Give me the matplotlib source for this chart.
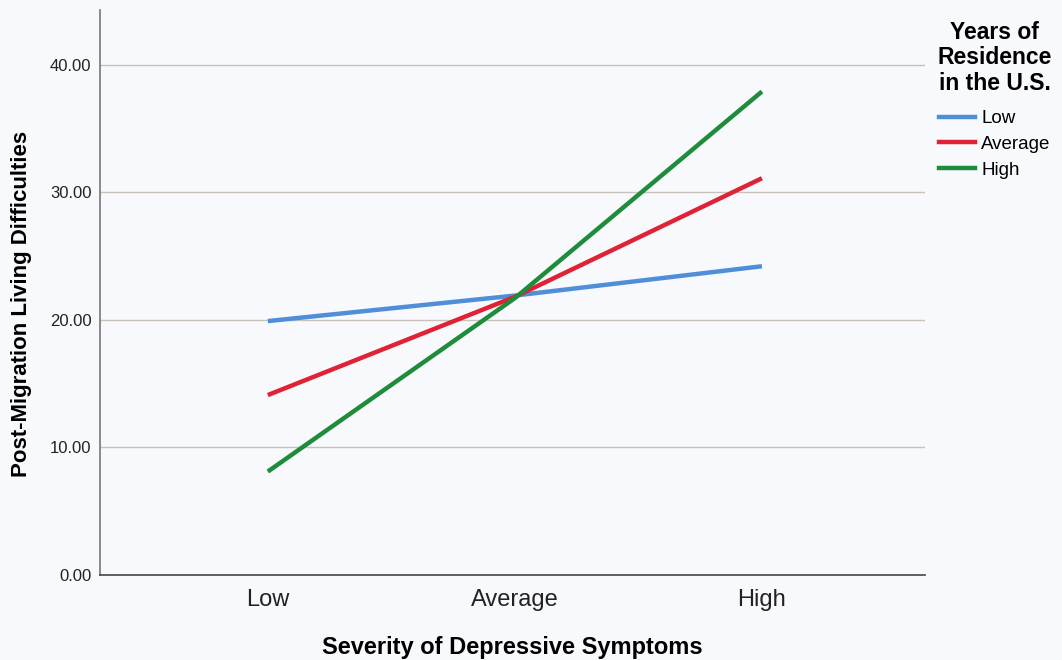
import matplotlib.pyplot as plt
from matplotlib.lines import Line2D

plt.rcParams['font.family'] = ['Liberation Sans', 'DejaVu Sans']

# Simple slopes data
severity = ['Low', 'Average', 'High']
residence_groups = ['Low', 'Average', 'High']
values = {
    'Low': [19.9, 21.9, 24.2],
    'Average': [14.1, 21.8, 31.1],
    'High': [8.1, 21.7, 37.9],
}
yticks = [0, 10, 20, 30, 40]
colors = {'Low': '#4f8fd8', 'Average': '#e02236', 'High': '#1f8c3b'}

bg = '#f8f9fc'
fig = plt.figure(figsize=(10.62, 6.6), dpi=100)
fig.patch.set_facecolor(bg)
ax = fig.add_axes([0.094, 0.129, 0.777, 0.856])
ax.set_facecolor(bg)

x = list(range(len(severity)))
for g in residence_groups:
    ax.plot(x, values[g], color=colors[g], linewidth=3.2, solid_capstyle='butt', zorder=3)

ax.set_xlim(-0.68, 2.66)
ax.set_ylim(0, 44.3)
ax.set_yticks(yticks)
ax.set_yticklabels([f'{v:.2f}' for v in yticks], fontsize=12, color='#222222')
ax.set_xticks(x)
ax.set_xticklabels(severity, fontsize=17, color='#222222')
ax.tick_params(axis='x', length=0, pad=10)
ax.tick_params(axis='y', length=0, pad=6)

for v in yticks[1:]:
    ax.axhline(v, color='#c9c2bb', linewidth=1.0, zorder=1)

for s in ['top', 'right']:
    ax.spines[s].set_visible(False)
ax.spines['left'].set_color('#777777')
ax.spines['bottom'].set_color('#444444')
ax.spines['left'].set_linewidth(1.2)
ax.spines['bottom'].set_linewidth(1.2)

ax.set_xlabel('Severity of Depressive Symptoms', fontsize=17, fontweight='bold', labelpad=18)
ax.set_ylabel('Post-Migration Living Difficulties', fontsize=16, fontweight='bold')
ax.yaxis.set_label_coords(-0.082, 0.48)

handles = [Line2D([0], [0], color=colors[g], linewidth=3.2) for g in residence_groups]
leg = fig.legend(handles, residence_groups, loc='upper left', bbox_to_anchor=(0.874, 0.983),
                 title='Years of\nResidence\nin the U.S.', frameon=False, fontsize=13.5,
                 title_fontproperties={'weight': 'bold', 'size': 16.5},
                 handlelength=1.9, handletextpad=0.35, labelspacing=0.45, borderpad=0.0)
leg.get_title().set_multialignment('center')
leg.get_title().set_linespacing(1.15)
leg._legend_box.sep = 11

fig.savefig('out.png', dpi=100, facecolor=bg)
